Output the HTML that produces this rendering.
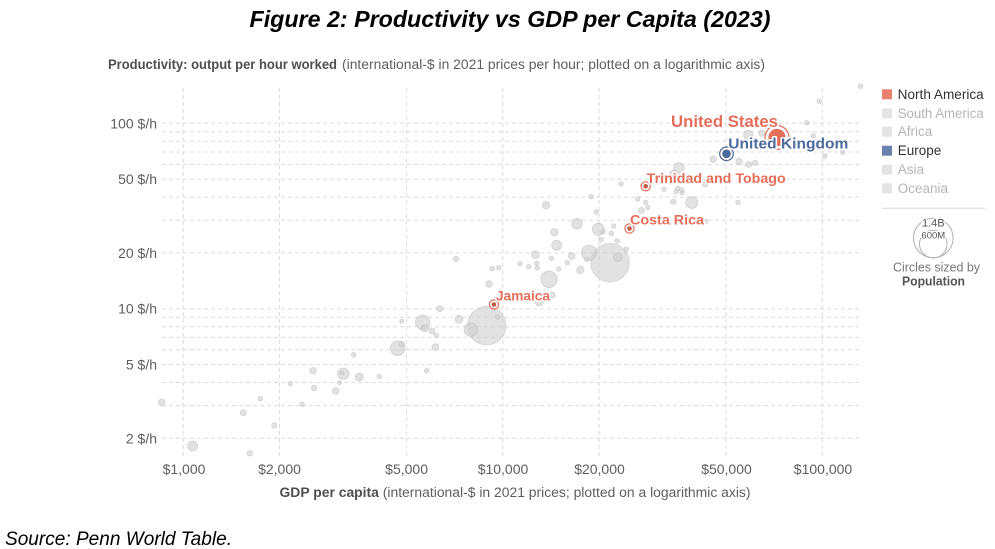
<!DOCTYPE html>
<html>
<head>
<meta charset="utf-8">
<style>
  html,body{margin:0;padding:0;background:#fff;}
  body{width:995px;height:549px;overflow:hidden;}
  svg{display:block;font-family:"Liberation Sans",sans-serif;}
  .g{fill:#cfcfcf;fill-opacity:0.6;stroke:#b9b9b9;stroke-opacity:0.55;stroke-width:0.8;}
  .grid{stroke:#dcdcdc;stroke-width:1;stroke-dasharray:4 3;fill:none;}
  .yl{font-size:14px;fill:#5e5e5e;text-anchor:end;}
  .xl{font-size:14px;fill:#5e5e5e;text-anchor:middle;}
  .lab{font-weight:bold;paint-order:stroke;stroke:#fff;stroke-width:3px;stroke-linejoin:round;}
  .leg{font-size:13.5px;}
</style>
</head>
<body>
<svg width="995" height="549" viewBox="0 0 995 549" xmlns="http://www.w3.org/2000/svg">
  <!-- Title -->
  <text x="249.5" y="27" font-size="23" font-weight="bold" font-style="italic" fill="#000" textLength="521" lengthAdjust="spacingAndGlyphs">Figure 2: Productivity vs GDP per Capita (2023)</text>

  <!-- Chart subtitle -->
  <text x="108" y="69" font-size="13.5" font-weight="bold" fill="#4f4f4f" textLength="229" lengthAdjust="spacingAndGlyphs">Productivity: output per hour worked</text>
  <text x="342" y="69" font-size="13.5" fill="#5e5e5e" textLength="423" lengthAdjust="spacingAndGlyphs">(international-$ in 2021 prices per hour; plotted on a logarithmic axis)</text>

  <!-- Horizontal gridlines -->
  <g class="grid">
    <line x1="162" x2="862" y1="123.3" y2="123.3"/>
    <line x1="162" x2="862" y1="131.8" y2="131.8"/>
    <line x1="162" x2="862" y1="141.3" y2="141.3"/>
    <line x1="162" x2="862" y1="152.0" y2="152.0"/>
    <line x1="162" x2="862" y1="164.4" y2="164.4"/>
    <line x1="162" x2="862" y1="179.1" y2="179.1"/>
    <line x1="162" x2="862" y1="197.1" y2="197.1"/>
    <line x1="162" x2="862" y1="220.2" y2="220.2"/>
    <line x1="162" x2="862" y1="252.9" y2="252.9"/>
    <line x1="162" x2="862" y1="308.7" y2="308.7"/>
    <line x1="162" x2="862" y1="317.2" y2="317.2"/>
    <line x1="162" x2="862" y1="326.7" y2="326.7"/>
    <line x1="162" x2="862" y1="337.4" y2="337.4"/>
    <line x1="162" x2="862" y1="349.8" y2="349.8"/>
    <line x1="162" x2="862" y1="364.5" y2="364.5"/>
    <line x1="162" x2="862" y1="382.5" y2="382.5"/>
    <line x1="162" x2="862" y1="405.6" y2="405.6"/>
    <line x1="162" x2="862" y1="438.3" y2="438.3"/>
  </g>
  <!-- Vertical gridlines -->
  <g class="grid">
    <line x1="183.3" x2="183.3" y1="88" y2="456"/>
    <line x1="279.5" x2="279.5" y1="88" y2="456"/>
    <line x1="406.6" x2="406.6" y1="88" y2="456"/>
    <line x1="502.8" x2="502.8" y1="88" y2="456"/>
    <line x1="599" x2="599" y1="88" y2="456"/>
    <line x1="726.1" x2="726.1" y1="88" y2="456"/>
    <line x1="822.3" x2="822.3" y1="88" y2="456"/>
  </g>

  <!-- Y labels -->
  <text class="yl" x="157" y="128.3">100 $/h</text>
  <text class="yl" x="157" y="184.1">50 $/h</text>
  <text class="yl" x="157" y="257.9">20 $/h</text>
  <text class="yl" x="157" y="313.7">10 $/h</text>
  <text class="yl" x="157" y="369.5">5 $/h</text>
  <text class="yl" x="157" y="443.3">2 $/h</text>

  <!-- X labels -->
  <text class="xl" x="184" y="474">$1,000</text>
  <text class="xl" x="279.5" y="474">$2,000</text>
  <text class="xl" x="406.6" y="474">$5,000</text>
  <text class="xl" x="503" y="474">$10,000</text>
  <text class="xl" x="599.5" y="474">$20,000</text>
  <text class="xl" x="726.5" y="474">$50,000</text>
  <text class="xl" x="823" y="474">$100,000</text>

  <!-- X title -->
  <text x="279.5" y="497" font-size="13.5" fill="#5e5e5e" textLength="471" lengthAdjust="spacingAndGlyphs"><tspan font-weight="bold" fill="#4f4f4f">GDP per capita</tspan> (international-$ in 2021 prices; plotted on a logarithmic axis)</text>

  <!-- Gray bubbles -->
  <g class="g">
    <circle cx="486.7" cy="325.7" r="19.3"/>
    <circle cx="610" cy="262.7" r="19.3"/>
    <circle cx="549" cy="279.3" r="8.3"/>
    <circle cx="589" cy="252.7" r="7.7"/>
    <circle cx="397.7" cy="348.3" r="7.3"/>
    <circle cx="422.7" cy="322.3" r="7.3"/>
    <circle cx="470.7" cy="329.7" r="6.7"/>
    <circle cx="598.3" cy="229.3" r="6"/>
    <circle cx="691.7" cy="202.5" r="6"/>
    <circle cx="343.3" cy="373.7" r="5.7"/>
    <circle cx="577" cy="223.7" r="5.3"/>
    <circle cx="679" cy="167.8" r="5.3"/>
    <circle cx="192.7" cy="446" r="5"/>
    <circle cx="556.7" cy="245.3" r="5"/>
    <circle cx="748.3" cy="135" r="4.7"/>
    <circle cx="617.7" cy="257.3" r="4.3"/>
    <circle cx="359.3" cy="377" r="4"/>
    <circle cx="459" cy="319.3" r="4"/>
    <circle cx="539.3" cy="302" r="4"/>
    <circle cx="535.3" cy="254.7" r="4"/>
    <circle cx="674" cy="174" r="4"/>
    <circle cx="424.7" cy="328.3" r="3.7"/>
    <circle cx="554.3" cy="232.3" r="3.7"/>
    <circle cx="546" cy="205.3" r="3.7"/>
    <circle cx="580.3" cy="270" r="3.7"/>
    <circle cx="161.7" cy="402.3" r="3.3"/>
    <circle cx="313" cy="370.7" r="3.3"/>
    <circle cx="335.7" cy="391" r="3.3"/>
    <circle cx="435.3" cy="347" r="3.3"/>
    <circle cx="489" cy="284" r="3.3"/>
    <circle cx="571.7" cy="256" r="3.3"/>
    <circle cx="713.3" cy="159.3" r="3.3"/>
    <circle cx="739.2" cy="161.5" r="3.3"/>
    <circle cx="243.3" cy="412.7" r="3"/>
    <circle cx="432" cy="331" r="3"/>
    <circle cx="439.7" cy="308.7" r="3"/>
    <circle cx="552.3" cy="295" r="3"/>
    <circle cx="641.5" cy="210.5" r="3"/>
    <circle cx="748.7" cy="164.5" r="3"/>
    <circle cx="761.7" cy="133.3" r="3"/>
    <circle cx="705" cy="184" r="3"/>
    <circle cx="249.7" cy="453.3" r="2.7"/>
    <circle cx="274.3" cy="425.3" r="2.7"/>
    <circle cx="314" cy="388" r="2.7"/>
    <circle cx="401.7" cy="344" r="2.7"/>
    <circle cx="456" cy="259" r="2.7"/>
    <circle cx="673.3" cy="201.7" r="2.7"/>
    <circle cx="755.2" cy="162.8" r="2.7"/>
    <circle cx="709.3" cy="180" r="2.5"/>
    <circle cx="260.3" cy="398.7" r="2.3"/>
    <circle cx="290.3" cy="383.7" r="2.3"/>
    <circle cx="302" cy="404.3" r="2.3"/>
    <circle cx="353.7" cy="354.7" r="2.3"/>
    <circle cx="379.3" cy="376.3" r="2.3"/>
    <circle cx="436.3" cy="335.3" r="2.3"/>
    <circle cx="426.7" cy="370.7" r="2.3"/>
    <circle cx="497.7" cy="317" r="2.3"/>
    <circle cx="492.3" cy="268.7" r="2.3"/>
    <circle cx="498.7" cy="267.7" r="2.3"/>
    <circle cx="520" cy="263.7" r="2.3"/>
    <circle cx="528.7" cy="266.7" r="2.3"/>
    <circle cx="536.7" cy="263.3" r="2.3"/>
    <circle cx="537.3" cy="268" r="2.3"/>
    <circle cx="551.3" cy="258.3" r="2.3"/>
    <circle cx="558.7" cy="269" r="2.3"/>
    <circle cx="567.3" cy="262.7" r="2.3"/>
    <circle cx="586.7" cy="259.3" r="2.3"/>
    <circle cx="591" cy="196.7" r="2.3"/>
    <circle cx="596.3" cy="212" r="2.3"/>
    <circle cx="603.3" cy="231.7" r="2.3"/>
    <circle cx="601.3" cy="239.7" r="2.3"/>
    <circle cx="611.3" cy="233.3" r="2.3"/>
    <circle cx="617.3" cy="241" r="2.3"/>
    <circle cx="613.7" cy="226" r="2.3"/>
    <circle cx="626.3" cy="249.3" r="2.3"/>
    <circle cx="621" cy="184" r="2.3"/>
    <circle cx="637.7" cy="199" r="2.3"/>
    <circle cx="645.7" cy="202.3" r="2.3"/>
    <circle cx="647.7" cy="207.5" r="2.3"/>
    <circle cx="664" cy="189.3" r="2.3"/>
    <circle cx="676" cy="191.7" r="2.3"/>
    <circle cx="677.7" cy="188.3" r="2.3"/>
    <circle cx="682" cy="192.7" r="2.3"/>
    <circle cx="681.7" cy="190" r="2.3"/>
    <circle cx="738" cy="202.3" r="2.3"/>
    <circle cx="705.7" cy="221.3" r="2.3"/>
    <circle cx="860.5" cy="86.2" r="2.3"/>
    <circle cx="819.3" cy="101.2" r="2.3"/>
    <circle cx="806.7" cy="122.7" r="2.3"/>
    <circle cx="813.3" cy="135.7" r="2.3"/>
    <circle cx="824.8" cy="156" r="2.3"/>
    <circle cx="842.7" cy="152.3" r="2.3"/>
    <circle cx="401.7" cy="321.3" r="2"/>
    <circle cx="342" cy="373" r="2"/>
    <circle cx="339.7" cy="382.7" r="2"/>
  </g>

  <!-- Highlighted countries -->
  <circle cx="777" cy="137.5" r="12" fill="none" stroke="#e56e5a" stroke-width="1.2"/>
  <circle cx="777" cy="137.5" r="8.6" fill="#e56e5a"/>
  <circle cx="726.5" cy="153.8" r="6.8" fill="none" stroke="#4c6a9c" stroke-width="1.2"/>
  <circle cx="726.5" cy="153.8" r="4.3" fill="#4c6a9c"/>
  <circle cx="645.7" cy="186.3" r="4.6" fill="none" stroke="#e56e5a" stroke-width="1.2"/>
  <circle cx="645.7" cy="186.3" r="2.3" fill="#c25a4a"/>
  <circle cx="629.5" cy="228.5" r="4.6" fill="none" stroke="#e56e5a" stroke-width="1.2"/>
  <circle cx="629.5" cy="228.5" r="2.3" fill="#c25a4a"/>
  <circle cx="494" cy="304.5" r="4.6" fill="none" stroke="#e56e5a" stroke-width="1.2"/>
  <circle cx="494" cy="304.5" r="2.3" fill="#c25a4a"/>

  <!-- Labels -->
  <text class="lab" x="671" y="127" font-size="17" fill="#e56e5a" textLength="107" lengthAdjust="spacingAndGlyphs">United States</text>
  <text class="lab" x="728.3" y="148.5" font-size="15" fill="#4c6a9c" textLength="120" lengthAdjust="spacingAndGlyphs">United Kingdom</text>
  <text class="lab" x="646.7" y="182.8" font-size="14" fill="#e56e5a" textLength="139" lengthAdjust="spacingAndGlyphs">Trinidad and Tobago</text>
  <text class="lab" x="630" y="224.3" font-size="14" fill="#e56e5a" textLength="74" lengthAdjust="spacingAndGlyphs">Costa Rica</text>
  <text class="lab" x="496" y="300.7" font-size="14" fill="#e56e5a" textLength="54" lengthAdjust="spacingAndGlyphs">Jamaica</text>

  <!-- Legend -->
  <rect x="882" y="89.3" width="10" height="10" fill="#e9806d"/>
  <text class="leg" x="897.7" y="98.8" fill="#333" textLength="86" lengthAdjust="spacingAndGlyphs">North America</text>
  <rect x="882" y="108.3" width="10" height="10" fill="#e4e4e4"/>
  <text class="leg" x="897.7" y="117.8" fill="#b5b5b5" textLength="86" lengthAdjust="spacingAndGlyphs">South America</text>
  <rect x="882" y="126.7" width="10" height="10" fill="#e4e4e4"/>
  <text class="leg" x="897.7" y="136.2" fill="#b5b5b5">Africa</text>
  <rect x="882" y="145.7" width="10" height="10" fill="#6a80ad"/>
  <text class="leg" x="897.7" y="155.2" fill="#333">Europe</text>
  <rect x="882" y="164.7" width="10" height="10" fill="#e4e4e4"/>
  <text class="leg" x="897.7" y="174.2" fill="#b5b5b5">Asia</text>
  <rect x="882" y="183.3" width="10" height="10" fill="#e4e4e4"/>
  <text class="leg" x="897.7" y="192.8" fill="#b5b5b5">Oceania</text>
  <line x1="882" x2="985" y1="208.3" y2="208.3" stroke="#dcdcdc" stroke-width="1"/>

  <circle cx="933.3" cy="238" r="19.8" fill="none" stroke="#b0b0b0" stroke-width="1"/>
  <circle cx="933.3" cy="244" r="13.8" fill="none" stroke="#b0b0b0" stroke-width="1"/>
  <text x="933.3" y="226.6" font-size="11" fill="#555" text-anchor="middle" paint-order="stroke" stroke="#fff" stroke-width="2.5">1.4B</text>
  <text x="933.3" y="238.3" font-size="9.5" fill="#555" text-anchor="middle" paint-order="stroke" stroke="#fff" stroke-width="2.5">600M</text>
  <text x="936.5" y="271.5" font-size="12.5" fill="#777" text-anchor="middle" textLength="87" lengthAdjust="spacingAndGlyphs">Circles sized by</text>
  <text x="933.5" y="285.5" font-size="13" font-weight="bold" fill="#555" text-anchor="middle" textLength="63" lengthAdjust="spacingAndGlyphs">Population</text>

  <!-- Source -->
  <text x="5" y="545" font-size="19.5" font-style="italic" fill="#000" textLength="227" lengthAdjust="spacingAndGlyphs">Source: Penn World Table.</text>
</svg>
</body>
</html>
